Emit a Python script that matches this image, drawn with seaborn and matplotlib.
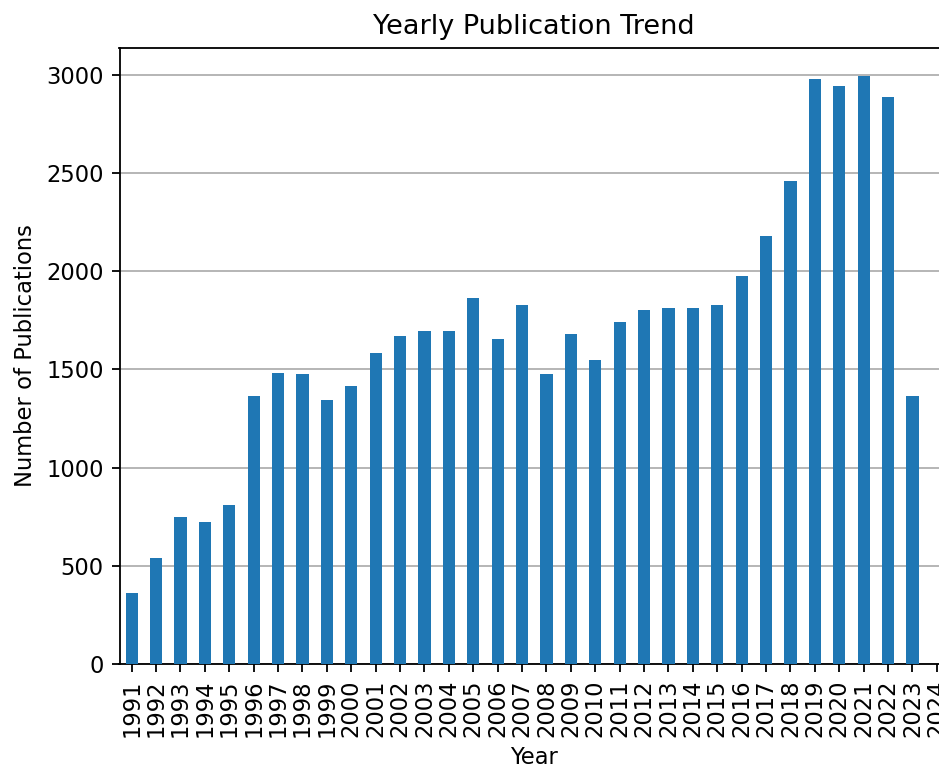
import matplotlib
matplotlib.use("Agg")
import matplotlib.pyplot as plt
import seaborn as sns
import pandas as pd

years = [str(y) for y in range(1991, 2025)]
counts = [360, 540, 750, 725, 810, 1365, 1480, 1475, 1345, 1415,
          1585, 1670, 1695, 1695, 1865, 1655, 1830, 1475, 1680, 1550,
          1740, 1805, 1815, 1815, 1830, 1975, 2180, 2460, 2980, 2945,
          2995, 2885, 1365, 0]

df = pd.DataFrame({"Year": years, "Publications": counts})

sns.set_style("white")
plt.rcParams['font.family'] = ['DejaVu Sans']
for k in ["text.color", "axes.labelcolor", "xtick.color", "ytick.color"]:
    plt.rcParams[k] = "black"

S = 1.63  # scale factor relative to matplotlib defaults

fig = plt.figure(figsize=(9.39, 7.69), dpi=100)
W, H = 939, 769
ax = fig.add_axes([119.5 / W, 1 - 664 / H, (949 - 119.5) / W, (664 - 48) / H])

sns.barplot(data=df, x="Year", y="Publications", color="#1f77b4",
            saturation=1, width=0.5, ax=ax, zorder=3, linewidth=0)

ax.set_xlim(-0.5, len(years) - 0.5)
ax.set_ylim(0, 3137)
ax.set_yticks([0, 500, 1000, 1500, 2000, 2500, 3000])
ax.yaxis.grid(True, color="#b0b0b0", linewidth=0.8 * S, zorder=0)
ax.set_axisbelow(True)
for s in ax.spines.values():
    s.set_color("black")
    s.set_linewidth(0.8 * S)
ax.tick_params(axis="both", which="major", labelsize=10 * S, length=3.5 * S,
               width=0.8 * S, pad=3.5 * S, color="black",
               bottom=True, left=True, direction="out")
plt.setp(ax.get_xticklabels(), rotation=90)
ax.set_xlabel("Year", fontsize=10 * S, labelpad=4 * S)
ax.set_ylabel("Number of Publications", fontsize=10 * S, labelpad=4 * S)
ax.set_title("Yearly Publication Trend", fontsize=12 * S, pad=6 * S)

fig.savefig("out.png", dpi=100)
